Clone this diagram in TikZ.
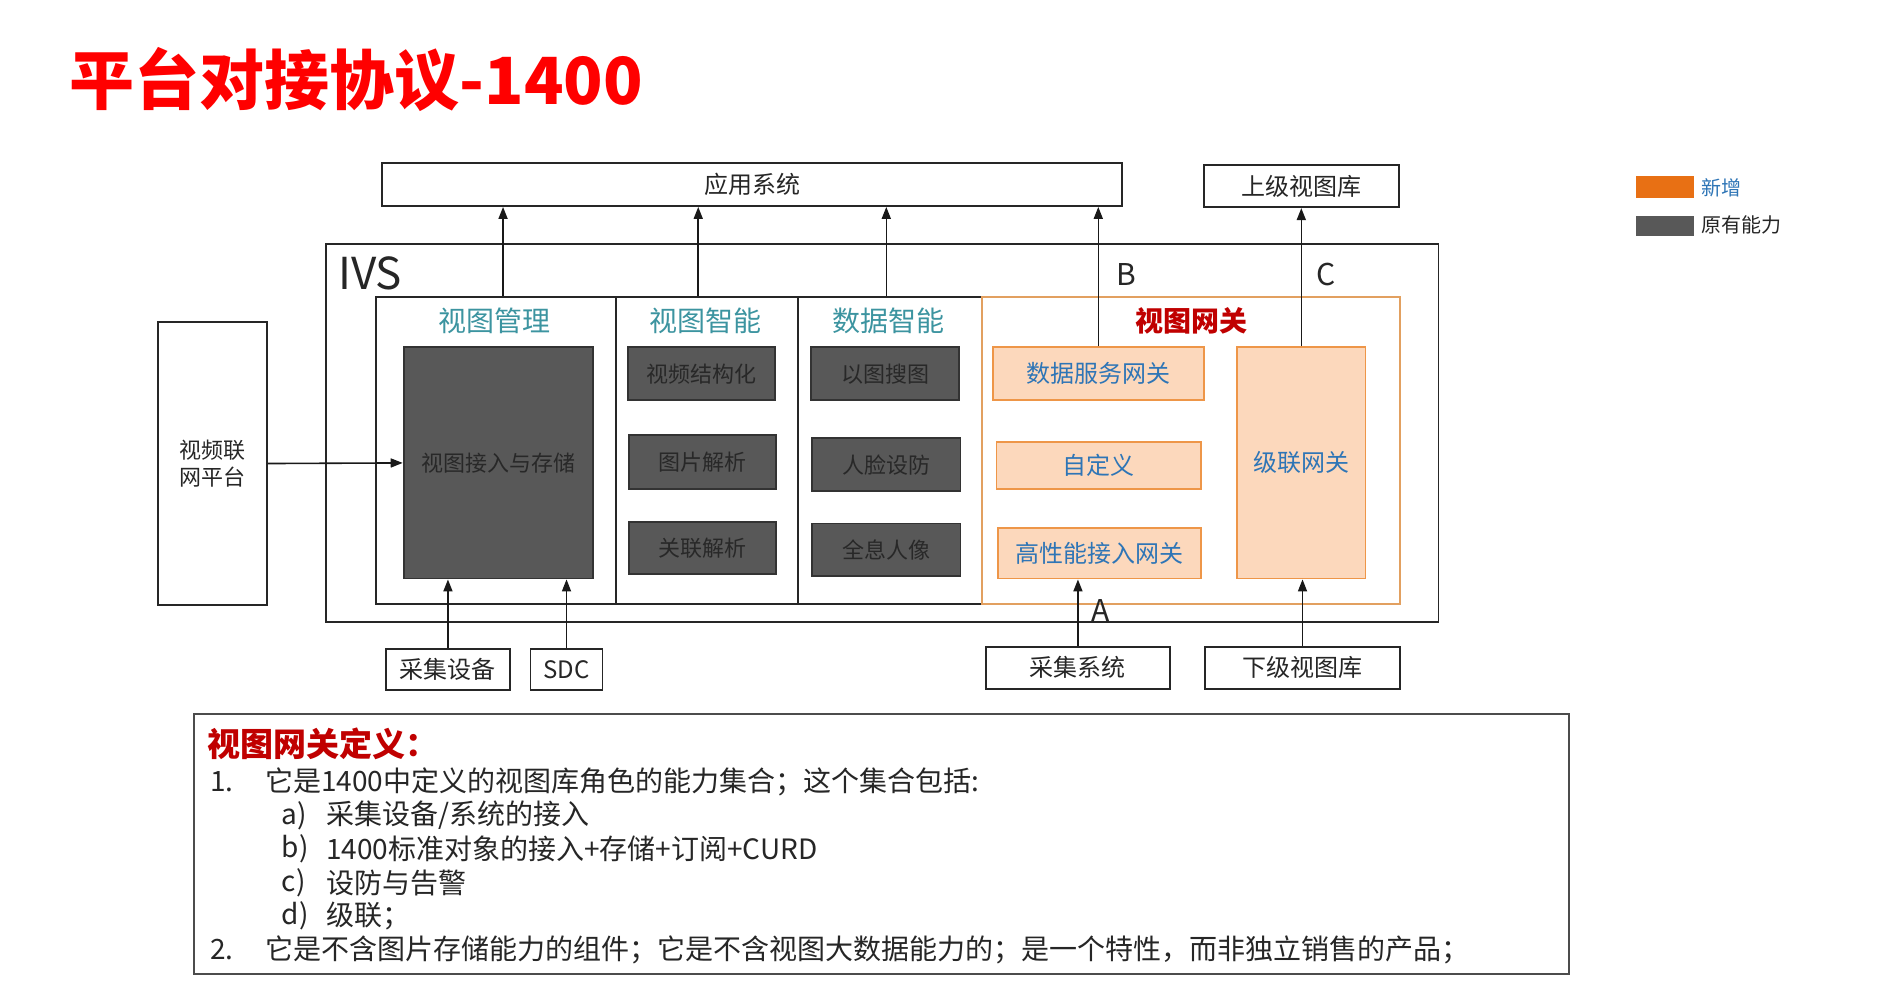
\documentclass[tikz,border=0pt]{standalone}
\usepackage{fontspec}
\setmainfont{Noto Sans CJK SC}
\usetikzlibrary{arrows.meta,fit}
\definecolor{teal1}{RGB}{60,148,160}
\definecolor{gwred}{RGB}{192,0,0}
\definecolor{peach}{RGB}{252,216,188}
\definecolor{orbd}{RGB}{238,150,72}
\definecolor{gwbd}{RGB}{226,160,96}
\definecolor{gwblue}{RGB}{46,117,182}
\definecolor{darkfill}{RGB}{88,88,88}
\definecolor{darktext}{RGB}{40,40,40}
\definecolor{legor}{RGB}{232,112,20}
\definecolor{bodytext}{RGB}{38,38,38}
\tikzset{
  wbox/.style={draw=black!85, line width=0.9pt, fill=white, inner sep=0pt},
  dbox/.style={draw=black!80, line width=0.9pt, fill=darkfill, inner sep=0pt},
  obox/.style={draw=orbd, line width=0.9pt, fill=peach, inner sep=0pt},
  wtxt/.style={inner sep=0pt, text=bodytext, font=\fontsize{12}{14}\selectfont},
  dtxt/.style={inner sep=0pt, text=darktext, font=\fontsize{11}{13}\selectfont},
  otxt/.style={inner sep=0pt, text=gwblue, font=\fontsize{12}{14}\selectfont},
  hdr/.style={text=teal1, inner sep=0pt, font=\fontsize{14}{16}\selectfont},
  arr/.style={-{Triangle[length=6pt,width=4.5pt]}, line width=0.8pt, draw=black!90},
  lbl/.style={inner sep=0pt, text=bodytext, font=\fontsize{15}{17}\selectfont},
  deftxt/.style={anchor=west, inner sep=0pt, text=bodytext, font=\fontsize{14}{16}\selectfont},
}
\begin{document}
\begin{tikzpicture}[x=0.5988pt, y=-0.5988pt]
\fill[white] (0,0) rectangle (1568,822);
\useasboundingbox (0,0) rectangle (1568,822);

% title
\node[anchor=west, inner sep=0pt, text=red, font=\fontsize{32.5}{36}\selectfont\bfseries] (title) at (58,66) {平台对接协议-1400};

% top boxes
\node[wbox, fit={(319,136) (937,172)}] (app) {};
\node[wtxt] (appt) at (app.center) {应用系统};
\node[wbox, fit={(1005,138) (1168,173)}] (sup) {};
\node[wtxt] (supt) at (sup.center) {上级视图库};

% legend
\node[fill=legor, inner sep=0pt, fit={(1366,147) (1414,165)}] (lg1) {};
\node[anchor=west, inner sep=0pt, text=gwblue, font=\fontsize{10}{12}\selectfont] (lg1t) at (1420,157) {新增};
\node[fill=darkfill, inner sep=0pt, fit={(1366,180) (1414,197)}] (lg2) {};
\node[anchor=west, inner sep=0pt, text=bodytext, font=\fontsize{10}{12}\selectfont] (lg2t) at (1420,188) {原有能力};

% IVS
\node[wbox, fit={(272,204) (1201,519)}] (ivs) {};
\node[anchor=west, inner sep=0pt, text=bodytext, font=\fontsize{22}{24}\selectfont] (ivsl) at (282,228) {IVS};

% columns
\node[wbox, fit={(314,248) (514,504)}] (col1) {};
\node[wbox, fit={(514,248) (666,504)}] (col2) {};
\node[wbox, fit={(666,248) (820,504)}] (col3) {};
\node[wbox, draw=gwbd, fit={(820,248) (1169,504)}] (col4) {};

\node[hdr] (h1) at (413,268) {视图管理};
\node[hdr] (h2) at (589,268) {视图智能};
\node[hdr] (h3) at (742,268) {数据智能};
\node[inner sep=0pt, text=gwred, font=\fontsize{14}{16}\selectfont\bfseries] (h4) at (995,268) {视图网关};

% dark boxes
\node[dbox, fit={(337,290) (495,483)}] (vs) {};
\node[dtxt] (vst) at (vs.center) {视图接入与存储};
\node[dbox, fit={(524,290) (647,334)}] (d1) {};
\node[dtxt] (d1t) at (d1.center) {视频结构化};
\node[dbox, fit={(525,363) (648,408)}] (d2) {};
\node[dtxt] (d2t) at (d2.center) {图片解析};
\node[dbox, fit={(525,436) (648,479)}] (d3) {};
\node[dtxt] (d3t) at (d3.center) {关联解析};
\node[dbox, fit={(677,290) (801,334)}] (d4) {};
\node[dtxt] (d4t) at (d4.center) {以图搜图};
\node[dbox, fit={(678,366) (802,410)}] (d5) {};
\node[dtxt] (d5t) at (d5.center) {人脸设防};
\node[dbox, fit={(678,437) (802,481)}] (d6) {};
\node[dtxt] (d6t) at (d6.center) {全息人像};

% orange boxes
\node[obox, fit={(829,290) (1005,334)}] (o1) {};
\node[otxt] (o1t) at (o1.center) {数据服务网关};
\node[obox, fit={(832,369) (1003,408)}] (o2) {};
\node[otxt] (o2t) at (o2.center) {自定义};
\node[obox, fit={(833,441) (1003,483)}] (o3) {};
\node[otxt] (o3t) at (o3.center) {高性能接入网关};
\node[obox, fit={(1033,290) (1140,483)}] (o4) {};
\node[otxt] (o4t) at (o4.center) {级联网关};

% left platform
\node[wbox, fit={(132,269) (223,505)}] (plat) {};
\node[wtxt, align=center, font=\fontsize{11}{13.5}\selectfont] (platt) at (plat.center) {视频联\\网平台};

% bottom boxes
\node[wbox, fit={(322,542) (426,576)}] (cj) {};
\node[wtxt] (cjt) at (cj.center) {采集设备};
\node[wbox, fit={(443,542) (503,576)}] (sdc) {};
\node[wtxt] (sdct) at (sdc.center) {SDC};
\node[wbox, fit={(823,540) (977,575)}] (cjs) {};
\node[wtxt] (cjst) at (cjs.center) {采集系统};
\node[wbox, fit={(1006,540) (1169,575)}] (sub) {};
\node[wtxt] (subt) at (sub.center) {下级视图库};

% letters
\node[lbl] (lb) at (940,229) {B};
\node[lbl] (lc) at (1107,229) {C};
\node[lbl] (la) at (919,510) {A};

% arrows
\draw[arr] ([xshift=3.6pt]col1.north) -- ([xshift=3.6pt]col1.north |- app.south);
\draw[arr] ([xshift=-4.2pt]col2.north) -- ([xshift=-4.2pt]col2.north |- app.south);
\draw[arr] ([xshift=-1.8pt]col3.north) -- ([xshift=-1.8pt]col3.north |- app.south);
\draw[arr] (o1.north) -- (o1.north |- app.south);
\draw[arr] (o4.north) -- (o4.north |- sup.south);
\draw[arr] (plat.east) -- (vs.west);
\draw[arr] (cj.north) -- (cj.north |- vs.south);
\draw[arr] (sdc.north) -- (sdc.north |- vs.south);
\draw[arr] (cjs.north) -- (cjs.north |- o3.south);
\draw[arr] (sub.north) -- (sub.north |- o4.south);

% definition box
\node[draw=black!70, line width=0.9pt, inner sep=0pt, fit={(162,596) (1310,813)}] (defbox) {};
\node[anchor=west, inner sep=0pt, text=gwred, font=\fontsize{16.5}{18}\selectfont\bfseries] (deft) at (173,621) {视图网关定义：};
\node[deftxt] (n1) at (175,653) {1.};
\node[deftxt] (t1) at (221,653) {它是1400中定义的视图库角色的能力集合；这个集合包括:};
\node[deftxt] (na) at (235,681) {a)};
\node[deftxt] (ta) at (272,681) {采集设备/系统的接入};
\node[deftxt] (nb) at (235,709) {b)};
\node[deftxt] (tb) at (272,709) {1400标准对象的接入+存储+订阅+CURD};
\node[deftxt] (nc) at (235,737) {c)};
\node[deftxt] (tc) at (272,737) {设防与告警};
\node[deftxt] (nd) at (235,765) {d)};
\node[deftxt] (td) at (272,765) {级联；};
\node[deftxt] (n2) at (175,793) {2.};
\node[deftxt] (t2) at (221,793) {它是不含图片存储能力的组件；它是不含视图大数据能力的；是一个特性，而非独立销售的产品；};
\end{tikzpicture}
\end{document}
